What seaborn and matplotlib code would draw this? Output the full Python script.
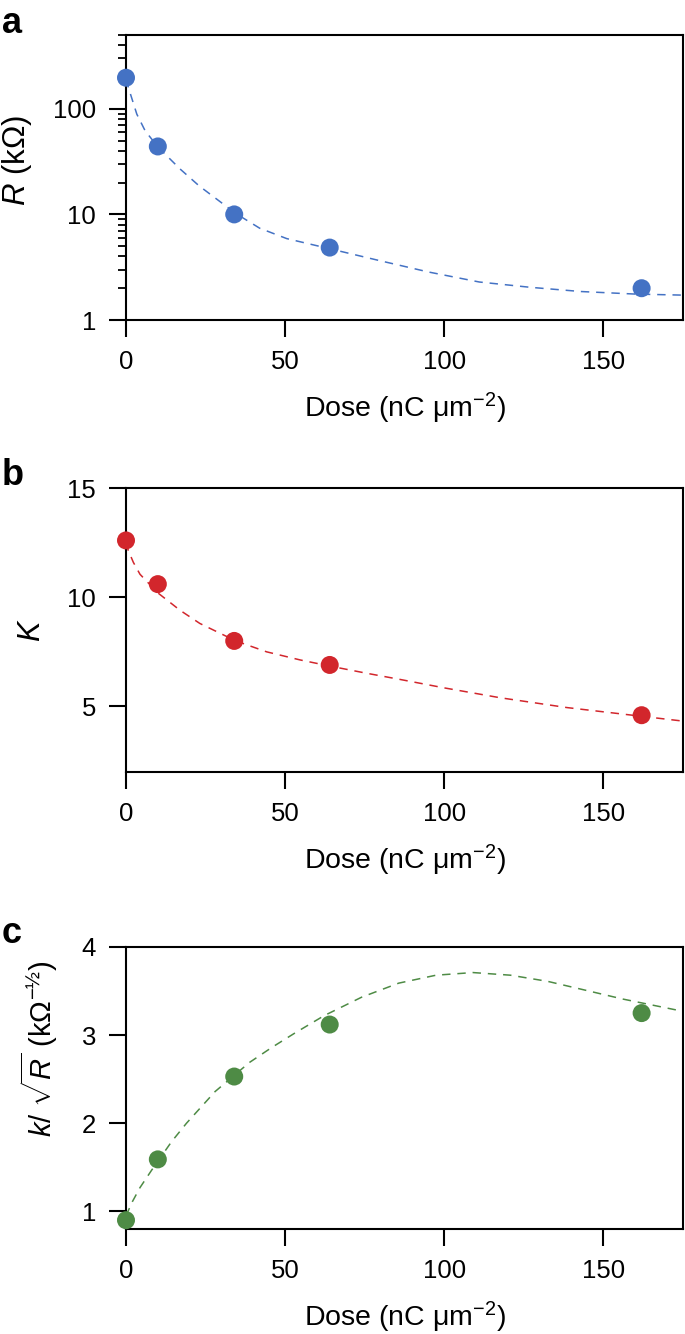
import numpy as np
import pandas as pd
import matplotlib
matplotlib.use("Agg")
import matplotlib.pyplot as plt
import seaborn as sns
from matplotlib.ticker import FixedLocator, LogLocator, NullFormatter, FixedFormatter

# ---------------- data ----------------
dose = [0, 10, 34, 64, 162]
R_vals = [197, 44, 10, 4.85, 2.0]
K_vals = [12.6, 10.6, 8.0, 6.9, 4.6]
kR_vals = [0.9, 1.59, 2.53, 3.12, 3.25]

fit_a_dose = [0, 1.3, 3.4, 6, 10, 17, 23, 34.5, 42, 50.5, 64, 80, 95, 111, 127, 143, 160, 175]
fit_a_R = [190, 141, 89, 62, 43.6, 26.9, 18.6, 10.2, 7.4, 5.9, 4.73, 3.63, 2.85, 2.29, 2.04, 1.86, 1.76, 1.72]

fit_b_dose = [0, 0.7, 2.3, 4.4, 10, 17, 23.2, 34.5, 44.2, 54.7, 64, 75.6, 86, 100, 117.5, 138.5, 162, 175]
fit_b_K = [12.5, 12.15, 11.6, 11.05, 10.2, 9.4, 8.8, 8.0, 7.5, 7.13, 6.85, 6.52, 6.24, 5.85, 5.4, 4.95, 4.55, 4.33]

fit_c_dose = [0, 2, 4.4, 8.1, 14.3, 19, 28, 38.8, 45.8, 52.9, 62.2, 74, 85.7, 97.4, 109, 120.8, 132.5, 144.3, 156, 175]
fit_c_val = [0.95, 1.11, 1.27, 1.47, 1.79, 2.0, 2.36, 2.69, 2.86, 3.02, 3.22, 3.43, 3.59, 3.68, 3.71, 3.68, 3.61, 3.51, 3.41, 3.27]

x_ticks = [0, 50, 100, 150]
a_yticks = [1, 10, 100]
b_yticks = [5, 10, 15]
c_yticks = [1, 2, 3, 4]

panel_letters = ["a", "b", "c"]
xlabel = r"Dose (nC μm$^{-2}$)"
ylabels = [r"$R$ (kΩ)", r"$K$", r"$k$/ $\sqrt{R}$ (kΩ$^{-½}$)"]

BLUE = "#4472C4"
RED = "#D2262C"
GREEN = "#4E8B45"

# ---------------- style ----------------
sns.set_theme(style="ticks")
plt.rcParams["font.family"] = ["Liberation Sans", "DejaVu Sans"]
plt.rcParams["mathtext.fontset"] = "custom"
plt.rcParams["mathtext.rm"] = "Liberation Sans"
plt.rcParams["mathtext.it"] = "Liberation Sans:italic"
plt.rcParams["mathtext.bf"] = "Liberation Sans:bold"
plt.rcParams["axes.linewidth"] = 1.5
plt.rcParams["text.color"] = "black"
plt.rcParams["axes.labelcolor"] = "black"
plt.rcParams["xtick.color"] = "black"
plt.rcParams["ytick.color"] = "black"

W, H = 685, 1334
fig = plt.figure(figsize=(W / 100, H / 100), dpi=100)

def px_axes(left, top, right, bottom):
    return fig.add_axes([left / W, 1 - bottom / H, (right - left) / W, (bottom - top) / H])

ax_a = px_axes(126, 35, 683, 320)
ax_b = px_axes(126, 488, 683, 772)
ax_c = px_axes(126, 947, 683, 1229)

MS = 168
LS = (0, (5.5, 4.5))
LW = 1.1
TICK_FS = 18.5
XLAB_FS = 20.5

def style_axis(ax):
    ax.set_xlim(0, 175)
    ax.xaxis.set_major_locator(FixedLocator(x_ticks))
    ax.set_xticklabels([str(t) for t in x_ticks])
    ax.tick_params(axis="both", which="major", direction="out", length=12.5, width=1.5,
                   labelsize=TICK_FS, color="black", labelcolor="black")
    ax.tick_params(axis="x", pad=9)
    ax.tick_params(axis="y", pad=9)
    ax.tick_params(top=False, right=False)
    for s in ax.spines.values():
        s.set_visible(True)
        s.set_color("black")
        s.set_linewidth(1.5)
    ax.set_xlabel(xlabel, fontsize=XLAB_FS, labelpad=12, color="black")
    ax.set_facecolor("white")

# ---- panel a ----
sns.lineplot(x=fit_a_dose, y=fit_a_R, ax=ax_a, color=BLUE, linestyle=LS, lw=LW, zorder=2)
sns.scatterplot(x=dose, y=R_vals, ax=ax_a, color=BLUE, s=MS, edgecolor="none", zorder=3, clip_on=False)
ax_a.set_yscale("log")
ax_a.set_ylim(1, 500)
style_axis(ax_a)
ax_a.yaxis.set_major_locator(FixedLocator(a_yticks))
ax_a.yaxis.set_major_formatter(FixedFormatter([str(t) for t in a_yticks]))
ax_a.yaxis.set_minor_locator(LogLocator(base=10, subs=np.arange(2, 10)))
ax_a.yaxis.set_minor_formatter(NullFormatter())
ax_a.tick_params(axis="y", which="minor", direction="out", length=6, width=1.3, left=True, right=False)
ax_a.tick_params(axis="x", which="minor", bottom=False, top=False)
ax_a.set_ylabel(ylabels[0], fontsize=22.5)
ax_a.yaxis.set_label_coords(-0.165, 0.56)

# ---- panel b ----
sns.lineplot(x=fit_b_dose, y=fit_b_K, ax=ax_b, color=RED, linestyle=LS, lw=LW, zorder=2)
sns.scatterplot(x=dose, y=K_vals, ax=ax_b, color=RED, s=MS, edgecolor="none", zorder=3, clip_on=False)
ax_b.set_ylim(2, 15)
style_axis(ax_b)
ax_b.yaxis.set_major_locator(FixedLocator(b_yticks))
ax_b.set_yticklabels([str(t) for t in b_yticks])
ax_b.set_ylabel(ylabels[1], fontsize=22)
ax_b.yaxis.set_label_coords(-0.142, 0.5)

# ---- panel c ----
sns.lineplot(x=fit_c_dose, y=fit_c_val, ax=ax_c, color=GREEN, linestyle=LS, lw=LW, zorder=2)
sns.scatterplot(x=dose, y=kR_vals, ax=ax_c, color=GREEN, s=MS, edgecolor="none", zorder=3, clip_on=False)
ax_c.set_ylim(0.8, 4)
style_axis(ax_c)
ax_c.yaxis.set_major_locator(FixedLocator(c_yticks))
ax_c.set_yticklabels([str(t) for t in c_yticks])
ax_c.set_ylabel(ylabels[2], fontsize=21)
ax_c.yaxis.set_label_coords(-0.118, 0.64)

# panel letters
for letter, ypx in zip(panel_letters, [33, 485, 943]):
    fig.text(2 / W, 1 - ypx / H, letter, fontsize=26, fontweight="bold", ha="left", va="baseline")

fig.savefig("out.png", dpi=100, facecolor="white")
